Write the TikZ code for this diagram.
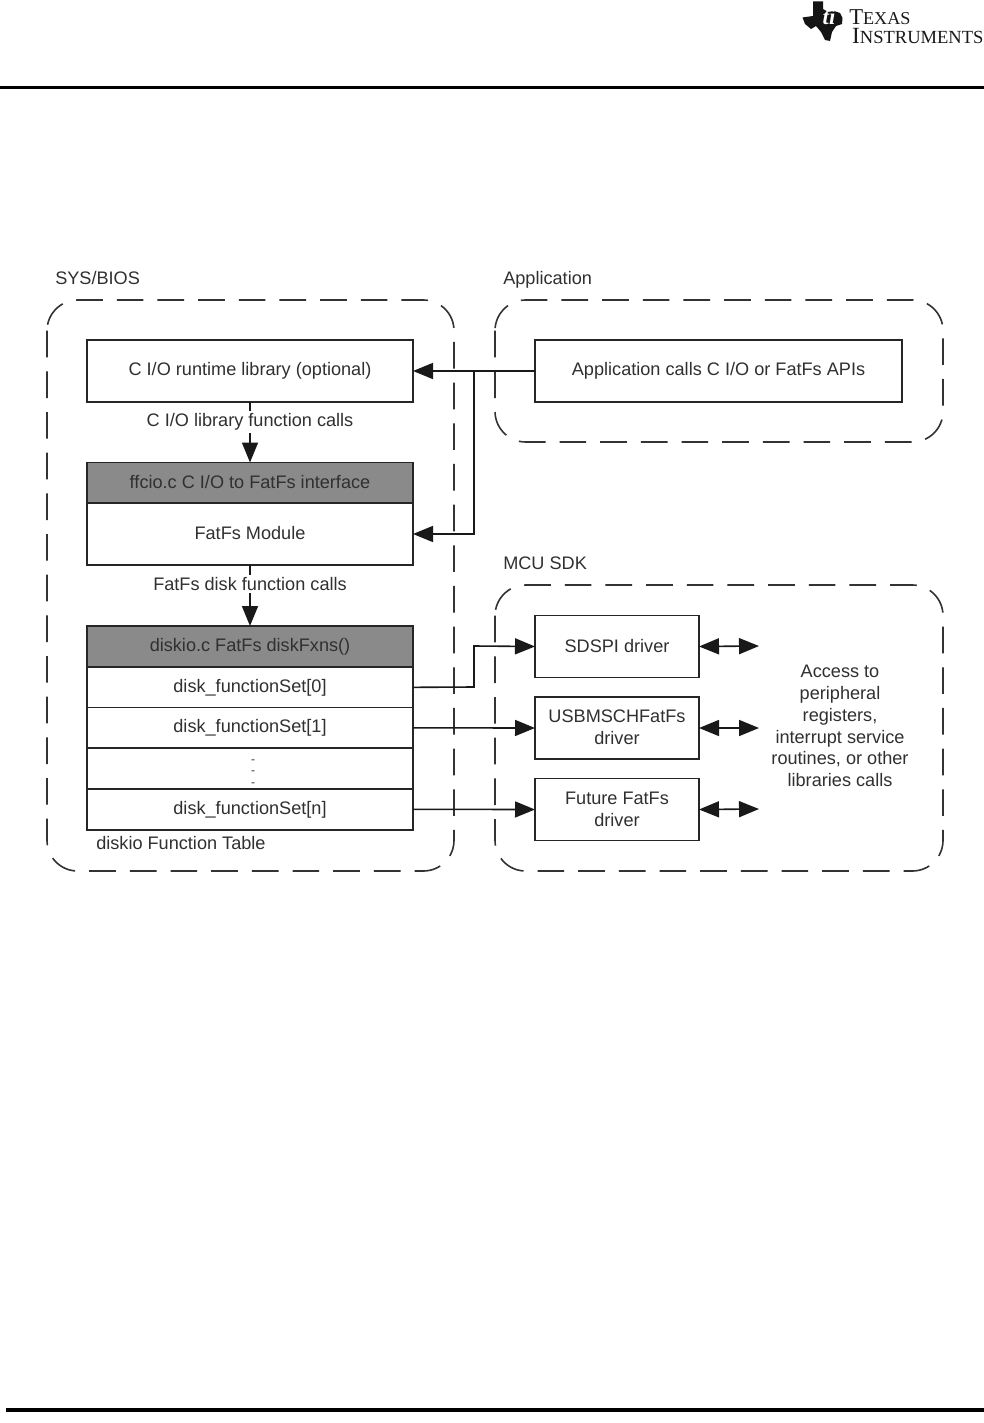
\documentclass[tikz,border=0pt]{standalone}
\usepackage{fontspec}
\setmainfont{Liberation Sans}
\newfontfamily\logofont{Liberation Serif}
\usetikzlibrary{arrows.meta}
\definecolor{txt}{HTML}{303030}
\definecolor{hdr}{HTML}{8A8A8A}
\newcommand{\upby}[2]{\raisebox{#1}{#2}}
\tikzset{
  x=0.75pt,y=-0.75pt,
  lbl/.style={font=\fontsize{13.6pt}{16.3pt}\selectfont,text=txt,align=center,inner sep=0pt},
  boxbase/.style={draw=black!85,line width=1.4pt,lbl,anchor=north west,outer sep=0pt,minimum width=#1*0.75pt},
  plain/.style={boxbase=326,fill=white},
  head/.style={boxbase=326,fill=hdr},
  drv/.style={boxbase=164,fill=white,minimum height=46.5pt},
  region/.style={draw=black!80,line width=1.2pt,dash pattern=on 20pt off 10.5pt,rounded corners=23pt},
  conn/.style={draw=black!90,line width=1.2pt,-{Stealth[length=15pt,width=12pt,inset=0pt]}},
  wire/.style={draw=black!90,line width=1.2pt},
  bidir/.style={draw=black!90,line width=1.2pt,{Stealth[length=15pt,width=12pt,inset=0pt]}-{Stealth[length=15pt,width=12pt,inset=0pt]}},
}
\begin{document}
\begin{tikzpicture}
\useasboundingbox (0,0) rectangle (984,1423);
\fill[white] (0,0) rectangle (984,1423);
% page rules
\coordinate (ruleTL) at (0,87.5); \coordinate (ruleTR) at (984,87.5);
\coordinate (ruleBL) at (6,1410); \coordinate (ruleBR) at (984,1410);
\draw[line width=2.3pt] (ruleTL) -- (ruleTR);
\draw[line width=2.3pt] (ruleBL) -- (ruleBR);
% logo
\fill[black!92] (813,1.5) -- (823,1.5) -- (823,9) -- (828,12) -- (834,11) -- (840,13) -- (842.5,18) -- (842,24)
  -- (836,26) -- (832,32) -- (830,41) -- (825,40) -- (821,32) -- (816,26) -- (811,29)
  -- (805,24) -- (802.5,17.5) -- (813,16) -- cycle;
\node[font=\bfseries\itshape\fontsize{17pt}{17pt}\selectfont,text=white,inner sep=0pt] (tilogo) at (829,17) {\logofont ti};
\node[anchor=north west,inner sep=0pt,text=black!90,align=left,font=\logofont\fontsize{17pt}{14.3pt}\selectfont] (tilogotext) at (849,9)
  {T{\fontsize{13.6pt}{14.3pt}\selectfont EXAS}\\\hspace*{2.2pt}{\fontsize{17.4pt}{14.3pt}\selectfont I}{\fontsize{13.9pt}{14.3pt}\selectfont NSTRUMENTS}};
% dashed regions
\draw[region] (47,300) rectangle (454,871);
\draw[region] (495,300) rectangle (943,442);
\draw[region] (495,585) rectangle (943,871);
\node[lbl,anchor=base west] (lsys) at (55,284) {SYS/BIOS};
\node[lbl,anchor=base west] (lapp) at (503,284) {Application};
\node[lbl,anchor=base west] (lmcu) at (503,569) {MCU SDK};
% left stack
\node[plain,minimum height=46.5pt] (cio) at (87,340) {\upby{-0.7pt}{C I/O runtime library (optional)}};
\node[head,minimum height=30.5pt] (ffcio) at (87,462.5) {\upby{1.5pt}{ffcio.c C I/O to FatFs interface}};
\node[plain,minimum height=46.5pt] (fatfs) at (87,503) {\upby{1.5pt}{FatFs Module}};
\node[head,minimum height=30.5pt] (diskio) at (87,626) {\upby{-0.7pt}{diskio.c FatFs diskFxns()}};
\node[plain,minimum height=30.5pt] (set0) at (87,667) {disk\_functionSet[0]};
\node[plain,minimum height=30.5pt] (set1) at (87,707.5) {disk\_functionSet[1]};
\node[plain,minimum height=30.5pt] (setd) at (87,748) {};
\node[font=\fontsize{9pt}{8.6pt}\selectfont,text=txt,align=center,inner sep=0pt] (dots) at (253,773) {-\\-\\-};
\node[plain,minimum height=30.5pt] (setn) at (87,789) {disk\_functionSet[n]};
\node[lbl,anchor=base west] (ltable) at (96,849) {diskio Function Table};
% right boxes
\node[boxbase=367,fill=white,minimum height=46.5pt] (app) at (535,340) {\upby{-0.7pt}{Application calls C I/O or FatFs APIs}};
\node[drv] (sdspi) at (535,615.5) {\upby{1.5pt}{SDSPI driver}};
\node[drv] (usb) at (535,697) {\upby{1pt}{\shortstack[c]{USBMSCHFatFs\\[3.5pt]driver}}};
\node[drv] (future) at (535,778.5) {\upby{1pt}{\shortstack[c]{Future FatFs\\[3.5pt]driver}}};
\node[lbl] (access) at (840,726) {Access to\\peripheral\\registers,\\interrupt service\\routines, or other\\libraries calls};
% connectors
\draw[conn] (cio.south -| 250,0) -- (ffcio.north -| 250,0);
\node[lbl,fill=white,inner ysep=2pt] (lcalls1) at (250,422) {C I/O library function calls};
\draw[conn] (fatfs.south -| 250,0) -- (diskio.north -| 250,0);
\node[lbl,fill=white,inner ysep=2pt] (lcalls2) at (250,584) {FatFs disk function calls};
\coordinate (j1) at (474,371);
\draw[conn] (app.west) -- (cio.east);
\draw[conn] (j1) -- (474,534) -- (fatfs.east);
\draw[conn] (set0.east) -- (474,687) -- (474,646) -- (sdspi.west);
\draw[conn] (set1.east) -- (usb.west);
\draw[conn] (setn.east) -- (future.west);
\coordinate (e1) at (759,646); \coordinate (e2) at (759,728); \coordinate (e3) at (759,809);
\draw[bidir] (sdspi.east) -- (e1);
\draw[bidir] (usb.east) -- (e2);
\draw[bidir] (future.east) -- (e3);
\end{tikzpicture}
\end{document}
